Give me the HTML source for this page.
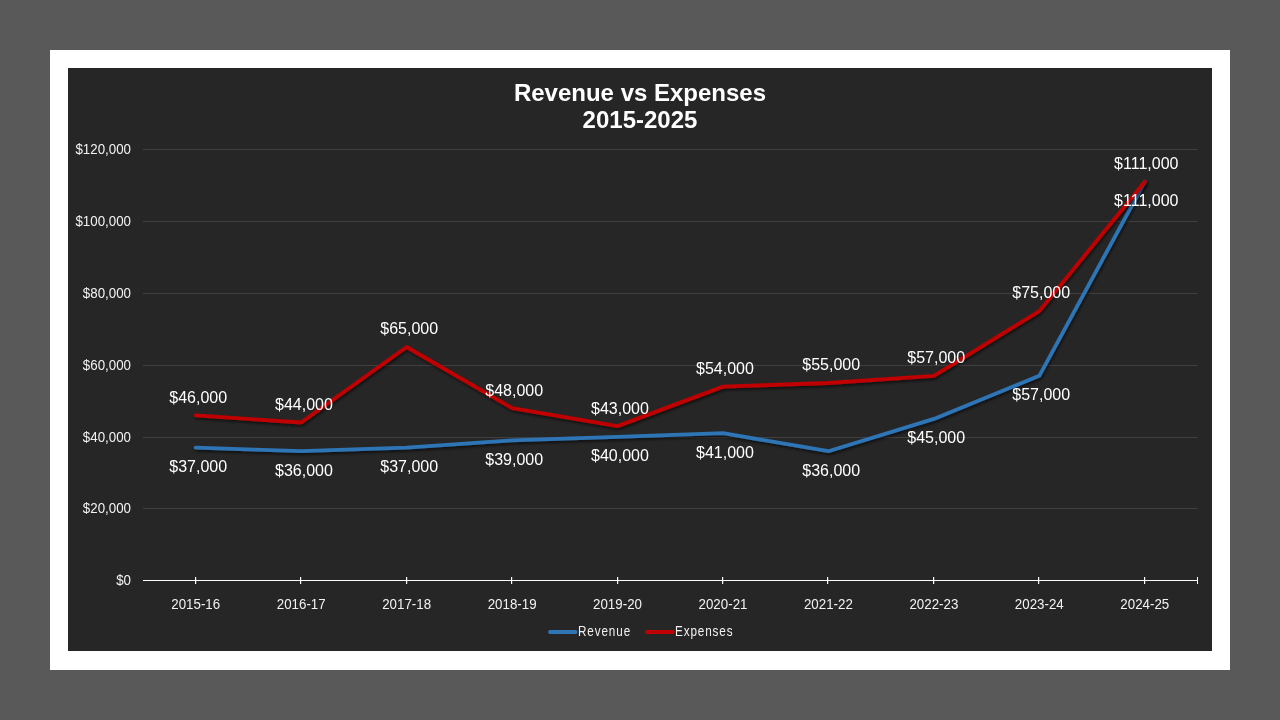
<!DOCTYPE html>
<html><head><meta charset="utf-8"><title>Revenue vs Expenses</title>
<style>
html,body{margin:0;padding:0;background:#595959;width:1280px;height:720px;overflow:hidden}
svg{display:block;position:absolute;left:0;top:0}
text{font-family:"Liberation Sans",Arial,sans-serif;fill:#f2f2f2}
.t{font-size:24px;font-weight:bold;fill:#fff;text-anchor:middle}
.ya{font-size:13.33px;text-anchor:end}
.xa{font-size:13.33px;text-anchor:middle}
.dl{font-size:16px;text-anchor:middle;fill:#fff}
.lg{font-size:13.33px;letter-spacing:1px}
</style></head><body>
<svg width="1280" height="720" viewBox="0 0 1280 720">
<defs><filter id="sh" x="-5%" y="-5%" width="110%" height="115%"><feGaussianBlur in="SourceAlpha" stdDeviation="1.8"/><feOffset dx="0.8" dy="1.6"/><feComponentTransfer><feFuncA type="linear" slope="0.6"/></feComponentTransfer><feMerge><feMergeNode/><feMergeNode in="SourceGraphic"/></feMerge></filter></defs>
<rect x="50" y="50" width="1180" height="620" fill="#fff"/>
<rect x="68" y="68" width="1144" height="583" fill="#262626"/>
<text class="t" x="640" y="100.5">Revenue vs Expenses</text>
<text class="t" x="640" y="127.5">2015-2025</text>

<rect x="143" y="508" width="1054.5" height="1" fill="#404040"/>
<rect x="143" y="437" width="1054.5" height="1" fill="#404040"/>
<rect x="143" y="365" width="1054.5" height="1" fill="#404040"/>
<rect x="143" y="293" width="1054.5" height="1" fill="#404040"/>
<rect x="143" y="221" width="1054.5" height="1" fill="#404040"/>
<rect x="143" y="149" width="1054.5" height="1" fill="#404040"/>
<text class="ya" transform="translate(131,585.1) scale(1,1.09)">$0</text>
<text class="ya" transform="translate(131,513.1) scale(1,1.09)">$20,000</text>
<text class="ya" transform="translate(131,442.1) scale(1,1.09)">$40,000</text>
<text class="ya" transform="translate(131,370.1) scale(1,1.09)">$60,000</text>
<text class="ya" transform="translate(131,298.1) scale(1,1.09)">$80,000</text>
<text class="ya" transform="translate(131,226.1) scale(1,1.09)">$100,000</text>
<text class="ya" transform="translate(131,154.1) scale(1,1.09)">$120,000</text>
<rect x="143" y="580" width="1055" height="1" fill="#fff"/>
<rect x="195" y="577" width="1.2" height="7" fill="#fff"/>
<rect x="300" y="577" width="1.2" height="7" fill="#fff"/>
<rect x="406" y="577" width="1.2" height="7" fill="#fff"/>
<rect x="511" y="577" width="1.2" height="7" fill="#fff"/>
<rect x="617" y="577" width="1.2" height="7" fill="#fff"/>
<rect x="722" y="577" width="1.2" height="7" fill="#fff"/>
<rect x="827" y="577" width="1.2" height="7" fill="#fff"/>
<rect x="933" y="577" width="1.2" height="7" fill="#fff"/>
<rect x="1038" y="577" width="1.2" height="7" fill="#fff"/>
<rect x="1144" y="577" width="1.2" height="7" fill="#fff"/>
<rect x="1197" y="577" width="1" height="7" fill="#fff"/>
<text class="xa" transform="translate(195.7,609.2) scale(1,1.09)">2015-16</text>
<text class="xa" transform="translate(301.2,609.2) scale(1,1.09)">2016-17</text>
<text class="xa" transform="translate(406.6,609.2) scale(1,1.09)">2017-18</text>
<text class="xa" transform="translate(512.1,609.2) scale(1,1.09)">2018-19</text>
<text class="xa" transform="translate(617.5,609.2) scale(1,1.09)">2019-20</text>
<text class="xa" transform="translate(723.0,609.2) scale(1,1.09)">2020-21</text>
<text class="xa" transform="translate(828.4,609.2) scale(1,1.09)">2021-22</text>
<text class="xa" transform="translate(933.9,609.2) scale(1,1.09)">2022-23</text>
<text class="xa" transform="translate(1039.3,609.2) scale(1,1.09)">2023-24</text>
<text class="xa" transform="translate(1144.8,609.2) scale(1,1.09)">2024-25</text>
<polyline points="195.7,447.6 301.2,451.2 406.6,447.6 512.1,440.4 617.5,436.8 723.0,433.2 828.4,451.2 933.9,418.9 1039.3,375.8 1144.8,181.8" fill="none" stroke="#2e75b6" stroke-width="3.8" stroke-linecap="round" stroke-linejoin="round" filter="url(#sh)"/>
<polyline points="195.7,415.3 301.2,422.5 406.6,347.0 512.1,408.1 617.5,426.1 723.0,386.6 828.4,383.0 933.9,375.8 1039.3,311.1 1144.8,181.8" fill="none" stroke="#c00000" stroke-width="3.8" stroke-linecap="round" stroke-linejoin="round" filter="url(#sh)"/>
<text class="dl" x="198.2" y="402.9">$46,000</text>
<text class="dl" x="303.95" y="409.9">$44,000</text>
<text class="dl" x="409.2" y="333.9">$65,000</text>
<text class="dl" x="514.2" y="395.9">$48,000</text>
<text class="dl" x="619.95" y="413.9">$43,000</text>
<text class="dl" x="724.95" y="373.9">$54,000</text>
<text class="dl" x="831.2" y="369.9">$55,000</text>
<text class="dl" x="936.2" y="362.9">$57,000</text>
<text class="dl" x="1041.2" y="297.9">$75,000</text>
<text class="dl" x="1146.3" y="168.9">$111,000</text>
<text class="dl" x="198.2" y="471.9">$37,000</text>
<text class="dl" x="303.95" y="475.9">$36,000</text>
<text class="dl" x="409.2" y="471.9">$37,000</text>
<text class="dl" x="514.2" y="464.9">$39,000</text>
<text class="dl" x="619.95" y="460.9">$40,000</text>
<text class="dl" x="724.95" y="457.9">$41,000</text>
<text class="dl" x="831.2" y="475.9">$36,000</text>
<text class="dl" x="936.2" y="442.9">$45,000</text>
<text class="dl" x="1041.2" y="399.9">$57,000</text>
<text class="dl" x="1146.3" y="205.9">$111,000</text>
<rect x="548" y="630" width="29.5" height="4" rx="2" fill="#2e75b6"/><text class="lg" transform="translate(578,636.2) scale(0.88,1.09)">Revenue</text>
<rect x="645" y="630" width="29.5" height="4" rx="2" fill="#c00000"/><text class="lg" transform="translate(675,636.2) scale(0.88,1.09)">Expenses</text>
</svg></body></html>
